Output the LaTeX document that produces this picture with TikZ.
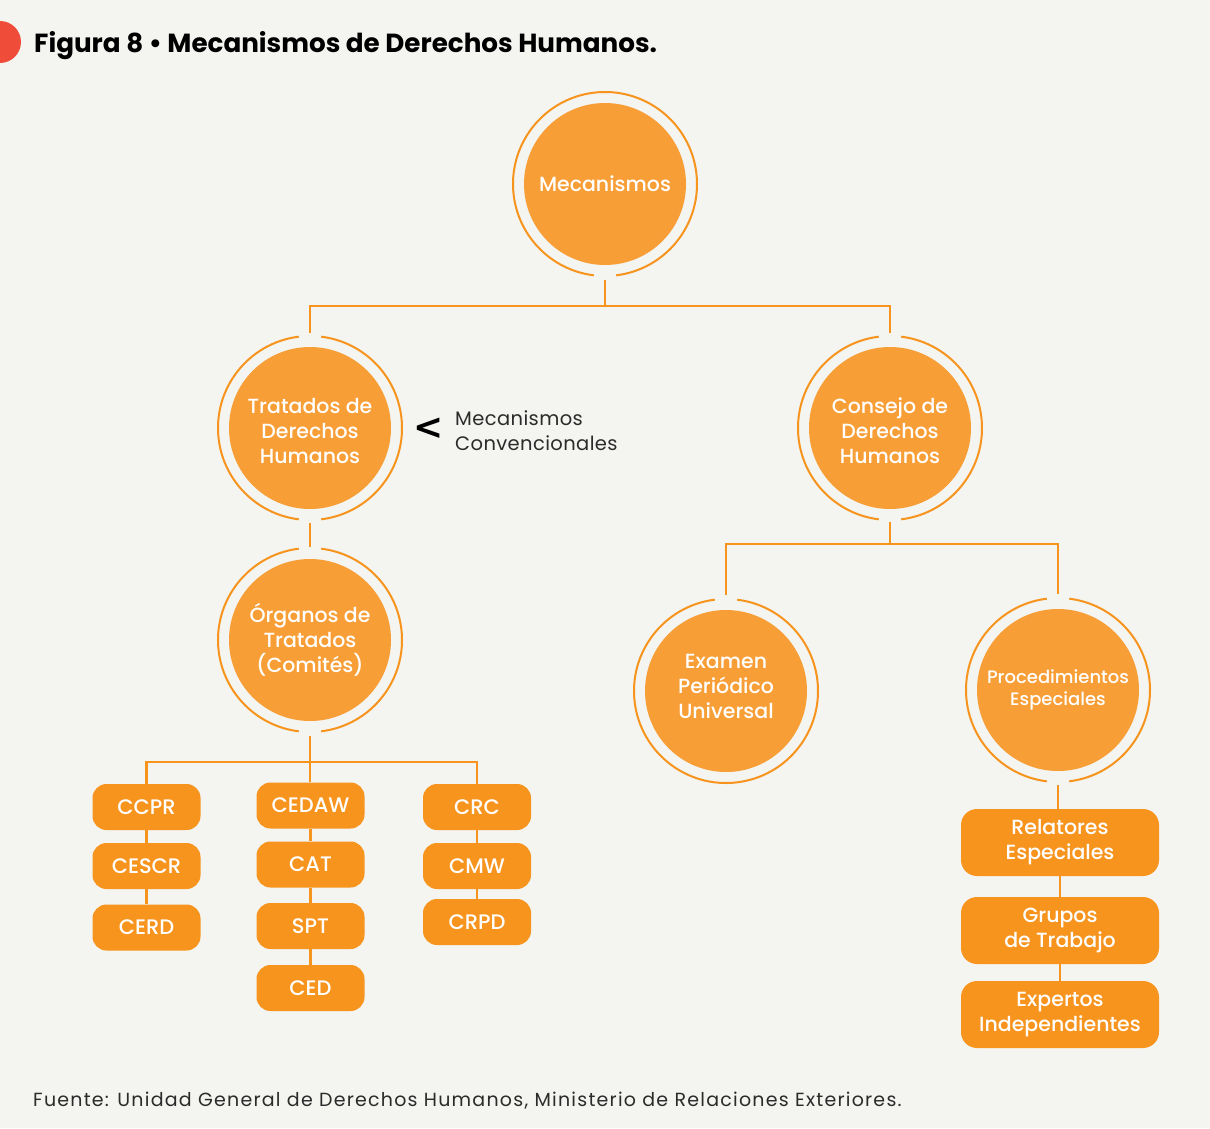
\documentclass[tikz,border=0pt]{standalone}
\usepackage{fontspec}
\setmainfont{Poppins}
\newfontfamily\medfont{Poppins Medium}
\newfontfamily\footfont{Poppins}[LetterSpace=6.5]
\newfontfamily\convfont{Poppins}[LetterSpace=2]
\newfontfamily\symfont{DejaVu Sans}
\definecolor{bg}{HTML}{F4F4F0}
\definecolor{circ}{HTML}{F89E36}
\definecolor{boxc}{HTML}{F7941E}
\definecolor{linec}{HTML}{F7941E}
\definecolor{redc}{HTML}{EF4C3A}
\definecolor{txtg}{HTML}{2B2B2B}
\newcommand\ringtb[1]{%
  \draw[ring] ([shift={(97:92)}]#1.center) arc[start angle=97,end angle=263,radius=92];
  \draw[ring] ([shift={(-83:92)}]#1.center) arc[start angle=-83,end angle=83,radius=92];}
\newcommand\ringbot[1]{%
  \draw[ring] ([shift={(-83:92)}]#1.center) arc[start angle=-83,end angle=263,radius=92];}
\newcommand\ringtop[1]{%
  \draw[ring] ([shift={(97:92)}]#1.center) arc[start angle=97,end angle=443,radius=92];}
\begin{document}
\begin{tikzpicture}[x=1pt,y=1pt,
  disc/.style={circle, fill=circ, minimum size=162pt, inner sep=0pt, text=white,
    font=\medfont\fontsize{20.5}{25}\selectfont, align=center},
  ring/.style={draw=linec, line width=2pt},
  link/.style={draw=linec, line width=2.2pt},
  sbox/.style={rounded corners=14pt, fill=boxc, minimum width=108pt, minimum height=46pt,
    inner sep=0pt, text=white, font=\medfont\fontsize{21}{25}\selectfont},
  lbox/.style={rounded corners=16pt, fill=boxc, minimum width=198pt, minimum height=67pt,
    inner sep=0pt, text=white, align=center, font=\medfont\fontsize{20.5}{25}\selectfont}]
\fill[bg] (0,0) rectangle (1210,-1128);
\useasboundingbox (0,0) rectangle (1210,-1128);
% title
\fill[redc] (0,-42) circle (21);
\node[anchor=base west, inner sep=0pt, font=\bfseries\fontsize{26.2}{30}\selectfont] (title) at (34,-52) {Figura 8 • Mecanismos de Derechos Humanos.};
% circles
\node[disc] (mec) at (605,-184) {\raisebox{1pt}{Mecanismos}};
\node[disc] (trat) at (310,-428) {\rule{0pt}{22pt}Tratados de\\Derechos\\Humanos};
\node[disc] (cons) at (890,-428) {\rule{0pt}{22pt}Consejo de\\Derechos\\Humanos};
\node[disc] (org) at (310,-640) {Órganos de\\Tratados\\(Comités)};
\node[disc] (exam) at (726,-691) {Examen\\Periódico\\Universal\rule[-9pt]{0pt}{9pt}};
\node[disc, font=\medfont\fontsize{18}{22}\selectfont] (proc) at (1058,-690) {Procedimientos\\Especiales};
\ringbot{mec}
\ringtb{trat}
\ringtb{cons}
\ringtb{org}
\ringtop{exam}
\ringtb{proc}
% side note
\node[inner sep=0pt, text=black, font=\symfont\bfseries\fontsize{36}{36}\selectfont] (lt) at (429,-429) {<};
\node[anchor=west, inner sep=0pt, align=left, text=txtg, font=\convfont\fontsize{19.5}{25}\selectfont] (conv) at (455,-431) {Mecanismos\\Convencionales};
% boxes
\node[sbox] (ccpr) at (146.5,-807) {CCPR};
\node[sbox] (cescr) at (146.5,-866) {CESCR};
\node[sbox] (cerd) at (146.5,-927.5) {CERD};
\node[sbox] (cedaw) at (310.5,-805.5) {CEDAW};
\node[sbox] (cat) at (310.5,-864.5) {CAT};
\node[sbox] (spt) at (310.5,-926) {SPT};
\node[sbox] (ced) at (310.5,-988) {CED};
\node[sbox] (crc) at (477,-807) {CRC};
\node[sbox] (cmw) at (477,-866) {CMW};
\node[sbox] (crpd) at (477,-922) {CRPD};
\node[lbox] (rel) at (1060,-842.5) {Relatores\\Especiales};
\node[lbox] (grp) at (1060,-930.5) {Grupos\\de Trabajo};
\node[lbox] (exp) at (1060,-1014.5) {Expertos\\Independientes};
% connectors
\draw[link] ([yshift=-15pt]mec.south) -- ++(0,-26) coordinate (j1);
\draw[link] ([yshift=14pt]trat.north) |- (j1) -| ([yshift=14pt]cons.north);
\draw[link] ([yshift=-14pt]trat.south) -- ([yshift=12pt]org.north);
\draw[link] ([yshift=-15pt]org.south) -- ++(0,-26) coordinate (j3);
\draw[link] (ccpr.north) |- (j3) -| (crc.north);
\draw[link] (j3) -- (j3 |- cedaw.north);
\draw[link] (ccpr) -- (cescr);
\draw[link] (cescr) -- (cerd);
\draw[link] (cedaw) -- (cat);
\draw[link] (cat) -- (spt);
\draw[link] (spt) -- (ced);
\draw[link] (crc) -- (cmw);
\draw[link] (cmw) -- (crpd);
\draw[link] ([yshift=-13pt]cons.south) -- ++(0,-22) coordinate (j2);
\draw[link] ([yshift=15pt]exam.north) |- (j2) -| ([yshift=15pt]proc.north);
\draw[link] ([yshift=-14pt]proc.south) -- (proc.south |- rel.north);
\draw[link] (rel) -- (grp);
\draw[link] (grp) -- (exp);
% footer
\node[anchor=base west, inner sep=0pt, text=txtg, font=\footfont\fontsize{19}{22}\selectfont] (foot) at (33,-1106) {Fuente: Unidad General de Derechos Humanos, Ministerio de Relaciones Exteriores.};
\end{tikzpicture}
\end{document}
